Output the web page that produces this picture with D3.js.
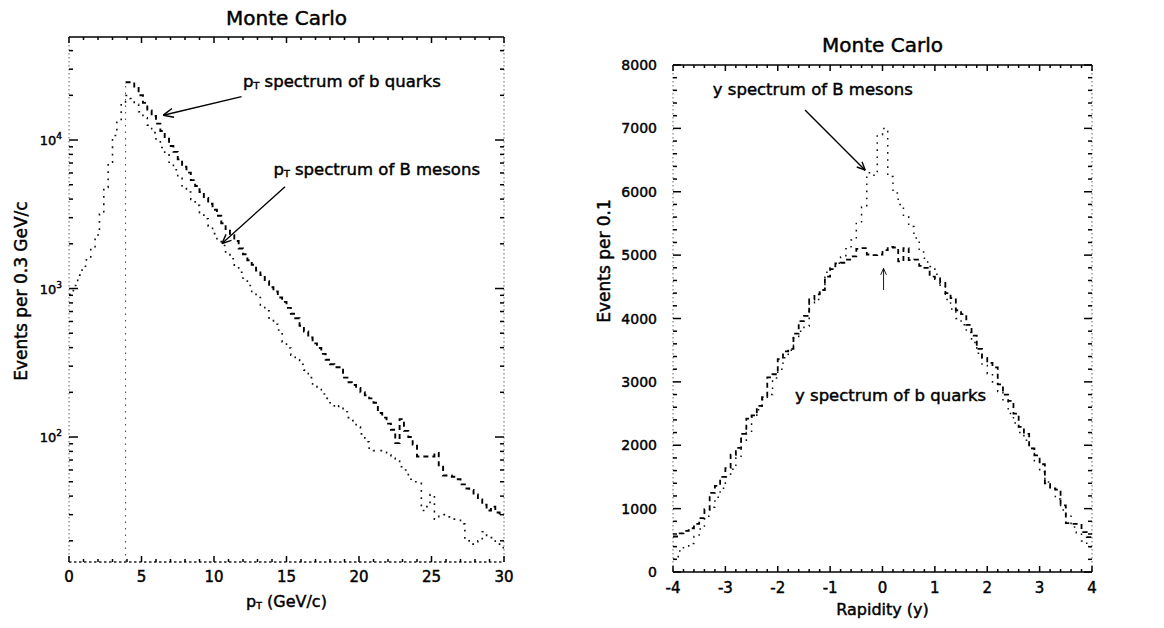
<!DOCTYPE html>
<html>
<head>
<meta charset="utf-8">
<script src="https://cdn.jsdelivr.net/npm/d3@7"></script>
<style>
  html, body { margin: 0; padding: 0; background: #fff; }
  svg { display: block; font-family: "DejaVu Sans", sans-serif; }
  svg text { stroke: #000; stroke-width: 0.45px; paint-order: stroke; }
</style>
</head>
<body>
<svg id="chart" width="1164" height="628"></svg>
<script>
// ---- transverse momentum spectra, events per 0.3 GeV/c ----
const ptBinWidth = 0.3;
const ptMesonStart = 0.0;   // first bin edge of the B meson histogram
const ptQuarkStart = 3.9;   // b quarks are generated above this edge
const ptMesons = [
  912, 1047, 1230, 1413, 1585, 1862, 2291, 3162, 4786, 7079,
  10715, 13183, 17783, 19953, 19055, 17378, 15488, 14125, 12589, 11220,
  10000, 8913, 7943, 7079, 6310, 5623, 4898, 4467, 3981, 3631,
  3236, 2951, 2630, 2344, 2138, 1950, 1738, 1585, 1413, 1288,
  1148, 1047, 955, 871, 776, 708, 631, 575, 525, 437,
  398, 355, 331, 309, 282, 251, 224, 209, 195, 182,
  170, 158, 162, 148, 135, 129, 117, 105, 93, 83,
  81, 81, 79, 76, 72, 69, 63, 60, 52, 50,
  50, 32, 34, 41, 28, 30, 30, 29, 28, 28,
  26, 20, 19, 19, 20, 23, 21, 21, 19, 18
];
const ptQuarks = [
  24500, 24500, 22400, 20000, 17800, 15800, 14500, 12900, 11500, 10200,
  9120, 8320, 7410, 6610, 6030, 5370, 4900, 4470, 4070, 3720,
  3390, 3090, 2750, 2510, 2290, 2090, 1860, 1700, 1550, 1445,
  1320, 1230, 1120, 1020, 955, 871, 813, 741, 676, 631,
  562, 513, 468, 427, 398, 363, 331, 309, 295, 295,
  251, 234, 224, 214, 200, 191, 182, 170, 145, 135,
  123, 112, 91, 132, 110, 100, 89, 74, 74, 74,
  74, 78, 63, 55, 55, 54, 52, 48, 45, 44,
  41, 38, 35, 32, 34, 31, 30
];
const ptTicks = [0, 5, 10, 15, 20, 25, 30];
const ptDecades = [2, 3, 4];

// ---- rapidity spectra, events per 0.1 ----
const rapBinWidth = 0.1;
const rapStart = -4;
const rapQuarks = [
  560, 610, 650, 690, 760, 850, 990, 1250, 1360, 1500,
  1640, 1850, 1960, 2180, 2420, 2470, 2620, 2760, 3070, 3120,
  3360, 3480, 3520, 3760, 3960, 4040, 4300, 4380, 4450, 4660,
  4780, 4870, 4880, 4930, 4980, 5100, 5110, 5010, 5000, 5010,
  5080, 5130, 5120, 4900, 5110, 4920, 4930, 4830, 4800, 4660,
  4620, 4560, 4400, 4320, 4130, 4070, 3900, 3730, 3520, 3380,
  3300, 3230, 2960, 2800, 2700, 2500, 2290, 2180, 1950, 1840,
  1700, 1400, 1320, 1300, 1050, 770, 760, 760, 630, 550
];
const rapMesons = [
  200, 330, 400, 450, 560, 680, 880, 1020, 1180, 1320,
  1500, 1620, 1800, 2050, 2200, 2440, 2560, 2720, 2800, 3060,
  3200, 3380, 3500, 3700, 3800, 3880, 4250, 4300, 4450, 4730,
  4800, 4870, 4970, 5100, 5240, 5500, 5760, 6300, 6260, 6900,
  7000, 6240, 5980, 5800, 5600, 5450, 5270, 5050, 4890, 4820,
  4700, 4500, 4300, 4150, 4000, 3900, 3780, 3620, 3450, 3260,
  3130, 3000, 2850, 2700, 2500, 2350, 2200, 2080, 1950, 1750,
  1580, 1420, 1330, 1150, 980, 880, 710, 620, 490, 400
];
const rapTicks = [-4, -3, -2, -1, 0, 1, 2, 3, 4];
const rapCountTicks = [0, 1000, 2000, 3000, 4000, 5000, 6000, 7000, 8000];

// ---- layout ----
const svg = d3.select("#chart");
svg.append("rect").attr("width", 1164).attr("height", 628).attr("fill", "#fff");

const L = { x0: 69, x1: 504, y0: 37, y1: 562 };
const R = { x0: 673, x1: 1092, y0: 65, y1: 572 };

const xPt = d3.scaleLinear().domain([0, 30]).range([L.x0, L.x1]);
const yPt = d3.scaleLog().domain([14.4, 49400]).range([L.y1, L.y0]);
const xRap = d3.scaleLinear().domain([-4, 4]).range([R.x0, R.x1]);
const yRap = d3.scaleLinear().domain([0, 8000]).range([R.y1, R.y0]);

const ink = "#000";

// histogram outline: bin edges with the last value carried to the final edge
function histPoints(start, width, vals) {
  const pts = vals.map((v, i) => [start + i * width, v]);
  pts.push([start + vals.length * width, vals[vals.length - 1]]);
  return pts;
}
function stepLine(x, y) {
  return d3.line().x(d => x(d[0])).y(d => y(d[1])).curve(d3.curveStepAfter);
}

function hLine(g, x1, x2, y, style) {
  return g.append("line").attr("x1", x1).attr("x2", x2).attr("y1", y).attr("y2", y).call(style);
}
function vLine(g, x, y1, y2, style) {
  return g.append("line").attr("x1", x).attr("x2", x).attr("y1", y1).attr("y2", y2).call(style);
}
const solidEdge = s => s.attr("stroke", ink).attr("stroke-width", 1.5);
const faintEdge = s => s.attr("stroke", "#666").attr("stroke-width", 1).attr("stroke-dasharray", "1.5,2.5");
const dottedEdge = s => s.attr("stroke", "#222").attr("stroke-width", 1.3).attr("stroke-dasharray", "2.5,2.5");
const tickStyle = s => s.attr("stroke", ink).attr("stroke-width", 1.5);

// arrow with an open V head at (x2, y2)
function arrow(g, x1, y1, x2, y2, head, width) {
  g.append("line").attr("x1", x1).attr("y1", y1).attr("x2", x2).attr("y2", y2)
    .attr("stroke", ink).attr("stroke-width", width);
  const a = Math.atan2(y1 - y2, x1 - x2);
  [-0.42, 0.42].forEach(da => {
    g.append("line").attr("x1", x2).attr("y1", y2)
      .attr("x2", x2 + head * Math.cos(a + da)).attr("y2", y2 + head * Math.sin(a + da))
      .attr("stroke", ink).attr("stroke-width", width);
  });
}

// text with p_T style subscript
function ptText(g, x, y, rest, size, anchor) {
  const t = g.append("text").attr("x", x).attr("y", y).attr("font-size", size)
    .attr("fill", ink).attr("text-anchor", anchor || "start");
  t.append("tspan").text("p");
  t.append("tspan").attr("font-size", size * 0.58).attr("dy", size * 0.12).text("T");
  t.append("tspan").attr("dy", -size * 0.12).text(rest);
  return t;
}

// ================= left panel: p_T =================
const gl = svg.append("g");
gl.append("defs").append("clipPath").attr("id", "clipL").append("rect")
  .attr("x", L.x0).attr("y", L.y0).attr("width", L.x1 - L.x0).attr("height", L.y1 - L.y0);

// frame
hLine(gl, L.x0, L.x1, L.y0, solidEdge);
hLine(gl, L.x0, L.x1, L.y1, dottedEdge);
vLine(gl, L.x0, L.y0, L.y1, faintEdge);
vLine(gl, L.x1, L.y0, L.y1, faintEdge);

// p_T ticks every 1 GeV/c, longer every 5
d3.range(0, 31, 1).forEach(t => {
  const len = t % 5 === 0 ? 6 : 3;
  vLine(gl, xPt(t), L.y1, L.y1 - len, tickStyle);
  vLine(gl, xPt(t), L.y0, L.y0 + len, tickStyle);
});
// logarithmic ticks on both sides
yPt.ticks().forEach(v => {
  const major = Math.abs(Math.log10(v) - Math.round(Math.log10(v))) < 1e-9;
  const len = major ? 9 : 4;
  hLine(gl, L.x0, L.x0 + len, yPt(v), tickStyle);
  hLine(gl, L.x1, L.x1 - len, yPt(v), tickStyle);
});

// tick labels
gl.selectAll("text.xt").data(ptTicks).join("text")
  .attr("x", d => xPt(d)).attr("y", L.y1 + 20).attr("text-anchor", "middle")
  .attr("font-size", 15).attr("fill", ink).text(d => d);
ptDecades.forEach(e => {
  const t = gl.append("text").attr("x", L.x0 - 7).attr("y", yPt(Math.pow(10, e)) + 5)
    .attr("text-anchor", "end").attr("font-size", 13).attr("fill", ink);
  t.append("tspan").text("10");
  t.append("tspan").attr("font-size", 9).attr("dy", -6).text(e);
});

// histograms
const gcl = gl.append("g").attr("clip-path", "url(#clipL)");
gcl.append("path")
  .attr("d", stepLine(xPt, yPt)(histPoints(ptMesonStart, ptBinWidth, ptMesons)))
  .attr("fill", "none").attr("stroke", "#111").attr("stroke-width", 1.6)
  .attr("stroke-dasharray", "1.8,5.5");
gcl.append("line")
  .attr("x1", xPt(ptQuarkStart)).attr("x2", xPt(ptQuarkStart))
  .attr("y1", yPt(yPt.domain()[0])).attr("y2", yPt(ptQuarks[0]))
  .attr("stroke", "#555").attr("stroke-width", 1.1).attr("stroke-dasharray", "1.5,5");
gcl.append("path")
  .attr("d", stepLine(xPt, yPt)(histPoints(ptQuarkStart, ptBinWidth, ptQuarks)))
  .attr("fill", "none").attr("stroke", ink).attr("stroke-width", 1.9)
  .attr("stroke-dasharray", "5,4");

// titles
gl.append("text").attr("x", (L.x0 + L.x1) / 2).attr("y", 25).attr("text-anchor", "middle")
  .attr("font-size", 20).attr("fill", ink).text("Monte Carlo");
ptText(gl, (L.x0 + L.x1) / 2, 607, "  (GeV/c)", 16, "middle");
gl.append("text").attr("transform", "translate(21,291) rotate(-90)")
  .attr("text-anchor", "middle").attr("dominant-baseline", "central")
  .attr("font-size", 17).attr("fill", ink).text("Events per 0.3 GeV/c");

// annotations (placed in data coordinates)
ptText(gl, xPt(12.0), yPt(22700), " spectrum of b quarks", 16.5);
arrow(gl, xPt(11.9), yPt(19600), xPt(6.5), yPt(14700), 11, 1.5);
ptText(gl, xPt(14.1), yPt(5800), " spectrum of B mesons", 16.5);
arrow(gl, xPt(14.9), yPt(4850), xPt(10.55), yPt(2010), 10, 1.4);

// ================= right panel: rapidity =================
const gr = svg.append("g");
gr.append("defs").append("clipPath").attr("id", "clipR").append("rect")
  .attr("x", R.x0).attr("y", R.y0).attr("width", R.x1 - R.x0).attr("height", R.y1 - R.y0);

hLine(gr, R.x0, R.x1, R.y0, solidEdge);
hLine(gr, R.x0, R.x1, R.y1, solidEdge);
vLine(gr, R.x0, R.y0, R.y1, faintEdge);
vLine(gr, R.x1, R.y0, R.y1, faintEdge);

d3.range(0, 41).map(i => -4 + i * 0.2).forEach(t => {
  const major = Math.abs(t - Math.round(t)) < 1e-9;
  const len = major ? 6 : 3;
  vLine(gr, xRap(t), R.y1, R.y1 - len, tickStyle);
  vLine(gr, xRap(t), R.y0, R.y0 + len, tickStyle);
});
d3.range(0, 8001, 200).forEach(v => {
  const len = v % 1000 === 0 ? 8 : 4;
  hLine(gr, R.x0, R.x0 + len, yRap(v), tickStyle);
  hLine(gr, R.x1, R.x1 - len, yRap(v), tickStyle);
});

gr.selectAll("text.xt").data(rapTicks).join("text")
  .attr("x", d => xRap(d)).attr("y", R.y1 + 21).attr("text-anchor", "middle")
  .attr("font-size", 15).attr("fill", ink).text(d => (d < 0 ? "-" + Math.abs(d) : d));
gr.selectAll("text.yt").data(rapCountTicks).join("text")
  .attr("x", R.x0 - 16).attr("y", d => yRap(d) + 5).attr("text-anchor", "end")
  .attr("font-size", 14).attr("fill", ink).text(d => d);

const gcr = gr.append("g").attr("clip-path", "url(#clipR)");
gcr.append("path")
  .attr("d", stepLine(xRap, yRap)(histPoints(rapStart, rapBinWidth, rapMesons)))
  .attr("fill", "none").attr("stroke", "#111").attr("stroke-width", 1.5)
  .attr("stroke-dasharray", "1.6,5.5");
gcr.append("path")
  .attr("d", stepLine(xRap, yRap)(histPoints(rapStart, rapBinWidth, rapQuarks)))
  .attr("fill", "none").attr("stroke", ink).attr("stroke-width", 1.8)
  .attr("stroke-dasharray", "5,4");

gr.append("text").attr("x", (R.x0 + R.x1) / 2).attr("y", 52).attr("text-anchor", "middle")
  .attr("font-size", 20).attr("fill", ink).text("Monte Carlo");
gr.append("text").attr("x", (R.x0 + R.x1) / 2).attr("y", 615).attr("text-anchor", "middle")
  .attr("font-size", 16).attr("fill", ink).text("Rapidity (y)");
gr.append("text").attr("transform", "translate(604,261) rotate(-90)")
  .attr("text-anchor", "middle").attr("dominant-baseline", "central")
  .attr("font-size", 17).attr("fill", ink).text("Events per 0.1");

gr.append("text").attr("x", xRap(-3.24)).attr("y", yRap(7530)).attr("font-size", 16.5)
  .attr("fill", ink).text("y spectrum of B mesons");
arrow(gr, xRap(-1.48), yRap(7290), xRap(-0.33), yRap(6340), 9, 1.4);
gr.append("text").attr("x", xRap(-1.67)).attr("y", yRap(2700)).attr("font-size", 16.5)
  .attr("fill", ink).text("y spectrum of b quarks");
arrow(gr, xRap(0.02), yRap(4450), xRap(0.02), yRap(4790), 7, 0.9);
</script>
</body>
</html>
